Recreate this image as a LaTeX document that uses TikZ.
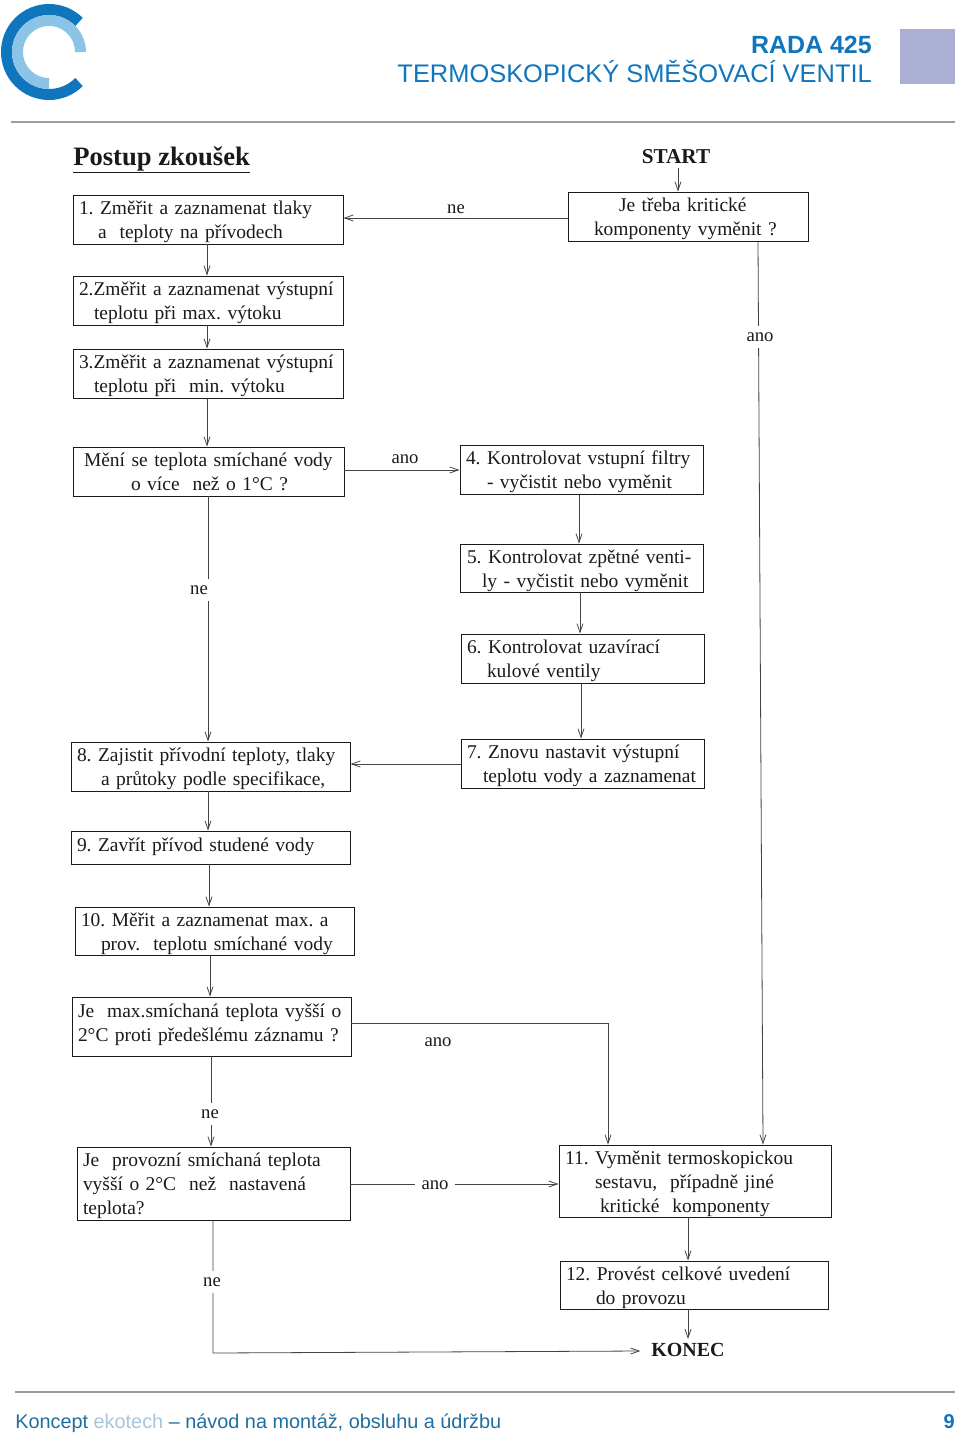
\documentclass[tikz,border=0pt]{standalone}
\usepackage{fontspec}
\setmainfont{Liberation Serif}
\newfontfamily\hdr{Liberation Sans}
\usetikzlibrary{arrows.meta}
\definecolor{hblue}{HTML}{0F75BC}
\definecolor{lblue}{HTML}{8CC4E8}
\definecolor{footblue}{HTML}{1F6F9E}
\definecolor{footlight}{HTML}{A6C6DA}
\definecolor{lilac}{HTML}{ABAFD4}
\definecolor{rulegray}{HTML}{9C9C9C}
\definecolor{ink}{HTML}{1A1A1A}
\definecolor{wire}{HTML}{444444}
\newlength\pxu \setlength{\pxu}{.75pt}
\newcommand\ind[1]{\hspace*{#1\pxu}}
\tikzset{
  x=.75pt,y=-.75pt,
  box/.style 2 args={draw=ink,line width=.7pt,align=left,inner xsep=0pt,inner ysep=0pt,
    minimum width=#1*.75pt,text width=#1*.75pt,minimum height=#2*.75pt,text=ink,
    font=\fontsize{14.6pt}{18pt}\selectfont\frenchspacing,
    text height=0pt,text depth=7pt},
  conn/.style={draw=wire,line width=.6pt,-{Straight Barb[length=6.5pt,width=4.5pt]}},
  lab/.style={text=ink,inner sep=1pt,font=\fontsize{14pt}{17pt}\selectfont},
  labw/.style={lab,fill=white,inner ysep=5pt},
  bold/.style={text=ink,inner xsep=0pt,inner ysep=3pt,font=\fontsize{15pt}{18pt}\selectfont\bfseries},
}
\begin{document}
\begin{tikzpicture}
\useasboundingbox (0,0) rectangle (960,1433);
% header
\draw[hblue,line width=8.25pt] (49,52) ++(-45:42.5) arc (-45:-315:42.5);
\draw[lblue,line width=8.25pt] (49,52) ++(0:31.5) arc (0:-270:31.5);
\node[anchor=base east,text=hblue,inner sep=0pt,font=\hdr\fontsize{18.7pt}{22pt}\selectfont\bfseries] (t1) at (872,54) {RADA 425};
\node[anchor=base east,text=hblue,inner sep=0pt,font=\hdr\fontsize{19.07pt}{22pt}\selectfont] (t2) at (872,83) {TERMOSKOPICKÝ SMĚŠOVACÍ VENTIL};
\fill[lilac] (900,29) rectangle (955,84);
\draw[rulegray,line width=2.2pt] (11,122) -- (955,122);
\draw[rulegray,line width=2.2pt] (15,1392) -- (955,1392);
\node[anchor=base west,inner sep=0pt,text=footblue,font=\hdr\fontsize{14.9pt}{18pt}\selectfont] (foot) at (15,1428) {Koncept \textcolor{footlight}{ekotech} – návod na montáž, obsluhu a údržbu};
\node[anchor=base east,inner sep=0pt,text=hblue,font=\hdr\fontsize{15pt}{18pt}\selectfont\bfseries] (pg) at (955,1428) {9};
% title
\node[anchor=base west,inner sep=0pt,text=ink,font=\fontsize{19.95pt}{22pt}\selectfont\bfseries] (title) at (73,166) {Postup zkoušek};
\draw[ink,line width=1.1pt] ([yshift=-.5pt]title.south west) -- ([yshift=-.5pt]title.south east);
\node[bold,font=\fontsize{15.9pt}{18pt}\selectfont\bfseries] (start) at (676,157) {START};
\node[bold,inner xsep=8pt] (konec) at (688,1350) {KONEC};
% boxes
\node[box={240}{49}] (q0) at (688,216.5) {\ind{51}Je třeba kritické\\\ind{26}komponenty vyměnit ?};
\node[box={270}{49}] (n1) at (208,219.5) {\ind{6}1. Změřit a zaznamenat tlaky\\\ind{25}a~ teploty na přívodech};
\node[box={270}{49}] (n2) at (208,300.5) {\ind{6}2.Změřit a zaznamenat výstupní\\\ind{21}teplotu při max. výtoku};
\node[box={270}{49}] (n3) at (208,373.5) {\ind{6}3.Změřit a zaznamenat výstupní\\\ind{21}teplotu při~ min. výtoku};
\node[box={271}{49}] (q1) at (208.5,471.5) {\ind{11}Mění se teplota smíchané vody\\\ind{58}o více~ než o 1°C ?};
\node[box={243}{49}] (n4) at (581.5,469.5) {\ind{6}4. Kontrolovat vstupní filtry\\\ind{27}- vyčistit nebo vyměnit};
\node[box={243}{48}] (n5) at (581.5,568) {\ind{7}5. Kontrolovat zpětné venti-\\\ind{22}ly - vyčistit nebo vyměnit};
\node[box={243}{49}] (n6) at (582.5,658.5) {\ind{6}6. Kontrolovat uzavírací\\\ind{26}kulové ventily};
\node[box={243}{49}] (n7) at (582.5,763.5) {\ind{6}7. Znovu nastavit výstupní\\\ind{22}teplotu vody a zaznamenat};
\node[box={279}{49}] (n8) at (210.5,766.5) {\ind{6}8. Zajistit přívodní teploty, tlaky\\\ind{30}a průtoky podle specifikace,};
\node[box={279}{33},text height=6pt,text depth=0pt] (n9) at (210.5,847.5) {\ind{6}9. Zavřít přívod studené vody};
\node[box={279}{48}] (n10) at (214.5,931) {\ind{6}10. Měřit a zaznamenat max. a\\\ind{26}prov.~ teplotu smíchané vody};
\node[box={279}{59},text depth=13.5pt] (q2) at (211.5,1026.5) {\ind{6}Je~ max.smíchaná teplota vyšší o\\\ind{6}2°C proti předešlému záznamu ?};
\node[box={273}{73},text depth=25pt] (q3) at (213.5,1183.5) {\ind{6}Je~ provozní smíchaná teplota\\\ind{6}vyšší o 2°C~ než~ nastavená\\\ind{6}teplota?};
\node[box={272}{72},text depth=25pt] (n11) at (695,1181) {\ind{6}11. Vyměnit termoskopickou\\\ind{36}sestavu,~ případně jiné\\\ind{41}kritické~ komponenty};
\node[box={268}{48}] (n12) at (694,1285) {\ind{6}12. Provést celkové uvedení\\\ind{36}do provozu};
% connectors
\draw[conn] (start.south -| 678,0) -- (q0.north -| 678,0);
\draw[conn] (q0.west |- 0,218) -- (n1.east |- 0,218);
\draw[conn] (n1.south -| 207,0) -- (n2.north -| 207,0);
\draw[conn] (n2.south -| 207,0) -- (n3.north -| 207,0);
\draw[conn] (n3.south -| 207,0) -- (q1.north -| 207,0);
\draw[conn] (q1.east |- 0,470) -- (n4.west |- 0,470);
\draw[conn] (n4.south -| 579,0) -- (n5.north -| 579,0);
\draw[conn] (n5.south -| 580,0) -- (n6.north -| 580,0);
\draw[conn] (n6.south -| 581,0) -- (n7.north -| 581,0);
\draw[conn] (n7.west |- 0,764) -- (n8.east |- 0,764);
\draw[conn] (q1.south -| 208,0) -- (n8.north -| 208,0);
\draw[conn] (n8.south -| 208,0) -- (n9.north -| 208,0);
\draw[conn] (n9.south -| 209,0) -- (n10.north -| 209,0);
\draw[conn] (n10.south -| 210,0) -- (q2.north -| 210,0);
\draw[conn] (q2.south -| 211,0) -- (q3.north -| 211,0);
\draw[conn] (q2.east |- 0,1023) -- (608,1023) -- (n11.north -| 608,0);
\draw[conn] (q0.south -| 758,0) -- (n11.north -| 763,0);
\draw[conn] (q3.east |- 0,1184) -- (n11.west |- 0,1184);
\draw[conn] (n11.south -| 688,0) -- (n12.north -| 688,0);
\draw[conn] (n12.south -| 688,0) -- (konec.north -| 688,0);
\draw[conn] (q3.south -| 213,0) -- (213,1353) -- (konec.west |- 0,1351);
% labels
\node[lab] (l1) at (456,209) {ne};
\node[labw] (l2) at (760,337) {ano};
\node[lab] (l3) at (405,459) {ano};
\node[labw] (l4) at (199,590) {ne};
\node[lab] (l5) at (438,1042) {ano};
\node[labw] (l6) at (210,1114) {ne};
\node[labw,inner xsep=5pt] (l7) at (435,1185) {ano};
\node[labw] (l8) at (212,1282) {ne};
\end{tikzpicture}
\end{document}
